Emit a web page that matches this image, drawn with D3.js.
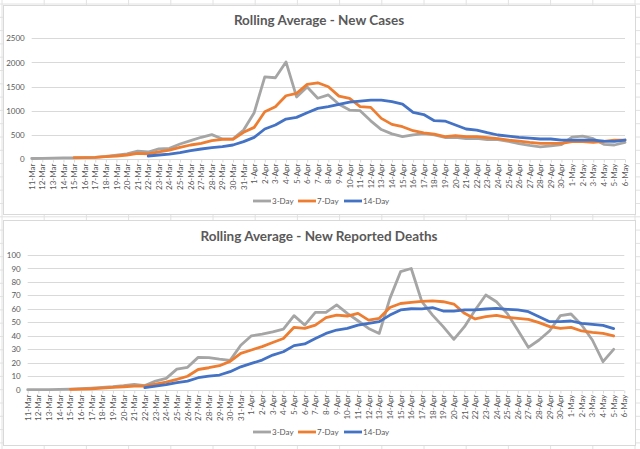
<!DOCTYPE html>
<html>
<head>
<meta charset="utf-8">
<script src="https://cdn.jsdelivr.net/npm/d3@7"></script>
<style>
  html, body { margin: 0; padding: 0; background: #fff; }
  svg { display: block; font-family: Lato, "Open Sans", "DejaVu Sans", sans-serif; }
</style>
</head>
<body>
<svg id="chart" width="640" height="449"></svg>
<script>
// ---- Data ----
const dates = ["11-Mar","12-Mar","13-Mar","14-Mar","15-Mar","16-Mar","17-Mar","18-Mar","19-Mar","20-Mar",
  "21-Mar","22-Mar","23-Mar","24-Mar","25-Mar","26-Mar","27-Mar","28-Mar","29-Mar","30-Mar","31-Mar",
  "1-Apr","2-Apr","3-Apr","4-Apr","5-Apr","6-Apr","7-Apr","8-Apr","9-Apr","10-Apr","11-Apr","12-Apr",
  "13-Apr","14-Apr","15-Apr","16-Apr","17-Apr","18-Apr","19-Apr","20-Apr","21-Apr","22-Apr","23-Apr",
  "24-Apr","25-Apr","26-Apr","27-Apr","28-Apr","29-Apr","30-Apr","1-May","2-May","3-May","4-May","5-May","6-May"];

const seriesNames = ["3-Day", "7-Day", "14-Day"];

const cases3 = [10,12,18,22,25,28,35,55,80,105,165,145,210,220,310,380,450,505,415,420,600,
  960,1703,1683,2010,1285,1490,1258,1327,1135,1014,1000,790,610,520,462,500,525,500,445,450,420,430,400,
  400,365,320,280,250,270,300,455,475,420,305,290,345];
const cases7 = [null,null,null,null,28,30,35,48,62,83,115,105,150,185,240,290,325,380,405,407,552,
  655,979,1083,1310,1359,1545,1579,1497,1303,1255,1083,1069,841,717,669,586,540,517,462,483,462,462,441,
  421,393,372,345,324,324,324,359,359,345,365,393,393];
const cases14 = [null,null,null,null,null,null,null,null,null,null,null,62,83,103,131,172,207,234,255,290,359,
  448,621,703,828,862,959,1048,1083,1131,1179,1200,1221,1221,1186,1138,966,920,793,786,703,621,600,545,
  497,476,448,434,414,414,393,393,393,393,372,365,393];

const deaths3 = [0,0,0,0.3,0.5,0.8,1.2,1.7,2.2,3,4,3,6.4,8.4,15.3,16.6,24,23.8,22.7,21.8,33,
  40,41.3,43,45,55,48,57.4,57.4,62.9,56.7,51.2,45.5,41.8,67.8,87.6,90,65.3,55.4,46.8,37.4,46.8,59.2,70.3,
  65.3,56.7,44.3,31.4,36.9,43.8,55,56.2,48,36.9,20.8,30,null];
const deaths7 = [null,null,null,null,0.3,0.5,0.7,1.2,1.7,2.2,2.7,2.7,4.2,5.7,7.7,10,15,16.3,17.8,21,27,
  29.5,32,35,38,46.3,45.5,48,53.5,55.4,54.7,56.7,51.7,53,61,64,64.9,65.5,66,65.3,63.6,56.7,52.5,54.2,
  55.2,53.7,53,52.2,49.8,46.8,45.5,46.3,43.6,42.6,41.8,39.9,null];
const deaths14 = [null,null,null,null,null,null,null,null,null,null,null,1.5,2.7,3.7,5.2,6.4,8.9,10.1,10.9,13.4,17,
  19.5,22,25.7,28.2,32.7,34,38,41.8,44.3,45.5,48,49.3,50.5,55.4,59.2,60.1,60,61,58.4,58.4,59.2,59.2,59.9,
  60.4,59.7,59.2,57.9,54.2,50.5,50.5,51,49.3,48.5,47.8,45.3,null];

const casesTicks = [0,500,1000,1500,2000,2500];
const deathsTicks = [0,10,20,30,40,50,60,70,80,90,100];

// ---- Styles ----
const colors = ["#a5a5a5", "#ed7d31", "#4472c4"];
const textColor = "#595959";
const gridColor = "#d9d9d9";

const svg = d3.select("#chart");

// spreadsheet background grid
const sheet = svg.append("g");
d3.range(2, 640, 42.2).forEach(x => sheet.append("line")
  .attr("x1", x).attr("x2", x).attr("y1", 0).attr("y2", 449)
  .attr("stroke", "#e2e2e2").attr("stroke-width", 1));
d3.range(4, 449, 13.3).forEach(y => sheet.append("line")
  .attr("x1", 0).attr("x2", 640).attr("y1", y).attr("y2", y)
  .attr("stroke", "#e2e2e2").attr("stroke-width", 1));

function drawChart(cfg) {
  const g = svg.append("g");
  g.append("rect")
    .attr("x", cfg.box[0] + 0.5).attr("y", cfg.box[1] + 0.5)
    .attr("width", cfg.box[2]).attr("height", cfg.box[3])
    .attr("fill", "#fff").attr("stroke", "#d9d9d9");

  const x = d3.scalePoint().domain(dates).range(cfg.xRange);
  const y = d3.scaleLinear().domain(cfg.yDomain).range(cfg.yRange);

  // horizontal gridlines
  g.append("g").selectAll("line").data(cfg.ticks.slice(1)).join("line")
    .attr("x1", cfg.xRange[0]).attr("x2", cfg.xRange[1])
    .attr("y1", d => Math.round(y(d)) + 0.5).attr("y2", d => Math.round(y(d)) + 0.5)
    .attr("stroke", gridColor).attr("stroke-width", 1);

  // y axis labels
  const yAxis = d3.axisLeft(y).tickValues(cfg.ticks).tickFormat(d3.format("d"))
    .tickSize(0).tickPadding(cfg.yPad);
  const ya = g.append("g").attr("transform", `translate(${cfg.xRange[0]},0)`).call(yAxis);
  ya.select(".domain").remove();
  ya.selectAll("text").attr("fill", textColor).attr("font-size", 8).attr("font-family", "Lato, sans-serif");

  // x axis
  const xAxis = d3.axisBottom(x).tickSize(3).tickPadding(2);
  const xa = g.append("g").attr("transform", `translate(0,${Math.round(y(0)) + 0.5})`).call(xAxis);
  xa.select(".domain").attr("stroke", gridColor).attr("d", `M${cfg.xRange[0]},0H${cfg.xRange[1]}`);
  xa.selectAll(".tick line").attr("stroke", gridColor);
  xa.selectAll("text")
    .attr("fill", textColor).attr("font-size", 8).attr("font-family", "Lato, sans-serif")
    .attr("transform", "rotate(-90)")
    .attr("text-anchor", "end")
    .attr("x", -4).attr("y", 0).attr("dy", "0.32em");

  // lines
  cfg.series.forEach((vals, k) => {
    const line = d3.line()
      .defined(d => d != null)
      .x((d, i) => x(dates[i]))
      .y(d => y(d));
    g.append("path")
      .datum(vals)
      .attr("d", line)
      .attr("fill", "none")
      .attr("stroke", colors[k])
      .attr("stroke-width", 2.8)
      .attr("stroke-linejoin", "round")
      .attr("stroke-linecap", "round");
  });

  // title
  g.append("text")
    .attr("x", cfg.titleX).attr("y", cfg.titleY)
    .attr("text-anchor", "middle")
    .attr("font-size", 13.5).attr("font-weight", "bold")
    .attr("fill", textColor)
    .text(cfg.title);

  // legend
  const legX = [253, 298, 344];
  const lg = g.append("g");
  seriesNames.forEach((name, k) => {
    lg.append("line")
      .attr("x1", legX[k]).attr("x2", legX[k] + 18)
      .attr("y1", cfg.legendY).attr("y2", cfg.legendY)
      .attr("stroke", colors[k]).attr("stroke-width", 2.8);
    lg.append("text")
      .attr("x", legX[k] + 19).attr("y", cfg.legendY).attr("dy", "0.33em")
      .attr("font-size", 8).attr("fill", textColor)
      .text(name);
  });
}

drawChart({
  box: [3, 5, 632, 209],
  xRange: [31.7, 625],
  yDomain: [0, 2500],
  yRange: [159, 38.3],
  ticks: casesTicks,
  yPad: 7,
  series: [cases3, cases7, cases14],
  title: "Rolling Average - New Cases",
  titleX: 319, titleY: 25,
  legendY: 201
});

drawChart({
  box: [3, 220, 632, 225],
  xRange: [27.7, 624.3],
  yDomain: [0, 100],
  yRange: [389.7, 255],
  ticks: deathsTicks,
  yPad: 7,
  series: [deaths3, deaths7, deaths14],
  title: "Rolling Average - New Reported Deaths",
  titleX: 319, titleY: 241,
  legendY: 432
});
</script>
</body>
</html>
